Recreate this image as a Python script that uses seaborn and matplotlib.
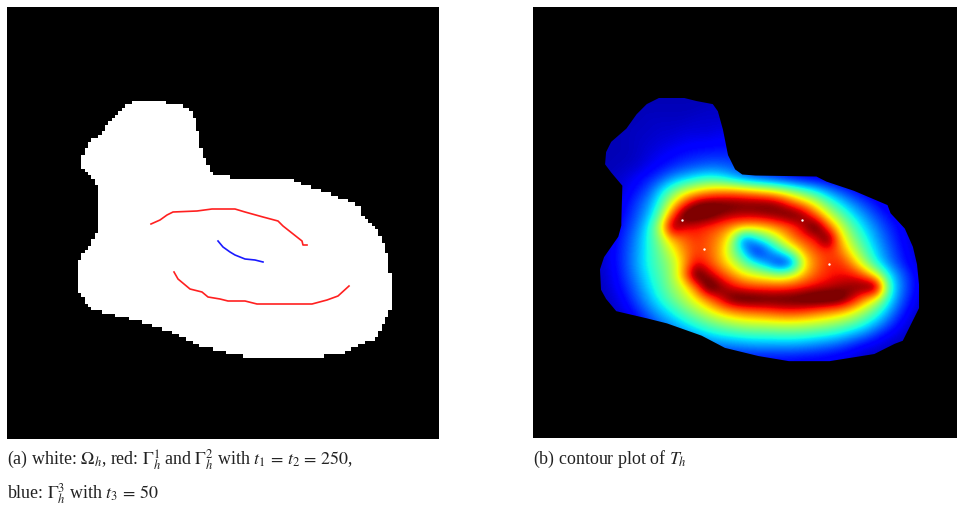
import matplotlib
matplotlib.use("Agg")
import matplotlib.pyplot as plt
import numpy as np
import seaborn as sns
from matplotlib.colors import ListedColormap
from matplotlib.patches import PathPatch
from matplotlib.path import Path

# outline of the domain, in pixels of the reference picture (left panel)
outline_x = [135, 160, 172, 188, 193, 198, 203, 210, 217, 230, 290, 300, 327, 360, 363, 377, 385, 389, 391, 391,
             384, 375, 367, 347, 303, 263, 233, 200, 177, 143, 123, 93, 88, 83, 78, 77, 81, 88, 95, 98, 98, 99,
             88, 82, 83, 88, 103, 113, 123]
outline_y = [102, 102, 105, 108, 115, 133, 158, 172, 177, 178, 179, 184, 193, 207, 215, 230, 248, 265, 285, 308,
             322, 340, 343, 353, 360, 360, 355, 347, 335, 323, 318, 311, 305, 299, 290, 270, 258, 248, 238, 227,
             223, 188, 175, 167, 155, 145, 132, 118, 108]

# boundary pieces
red1_x = [151, 160, 167, 173, 197, 212, 220, 235, 245, 263, 278, 283, 302, 303, 307]
red1_y = [225, 221, 216, 213, 212, 210, 210, 210, 213, 218, 222, 227, 242, 246, 246]
red2_x = [174, 178, 190, 202, 208, 220, 228, 245, 257, 312, 327, 338, 349]
red2_y = [273, 280, 290, 293, 298, 300, 302, 302, 305, 305, 301, 297, 287]
blue_x = [218, 223, 230, 235, 245, 255, 263]
blue_y = [242, 248, 253, 256, 260, 261, 263]

# stray light pixels in the contour plot
dot_x = [682, 802, 704, 829]
dot_y = [221, 221, 250, 265]

# temperature in percent of t_max, 12 px apart
t_x = list(range(600, 925, 12))
t_y = list(range(96, 361, 12))
t_rows = [
    [5, 5, 5, 5, 5, 5, 5, 5, 5, 5, 5, 5, 5, 5, 5, 5, 5, 5, 5, 5, 5, 5, 5, 5, 5, 5, 5, 5],
    [5, 5, 5, 5, 5, 5, 5, 5, 5, 6, 6, 6, 6, 6, 6, 6, 6, 6, 6, 6, 6, 6, 6, 6, 6, 6, 6, 6],
    [5, 5, 5, 5, 6, 6, 6, 6, 7, 7, 7, 7, 7, 7, 7, 7, 7, 7, 7, 7, 7, 7, 7, 7, 7, 7, 7, 7],
    [5, 5, 5, 6, 6, 7, 7, 8, 8, 8, 9, 9, 9, 8, 8, 8, 8, 8, 8, 8, 8, 8, 8, 8, 8, 8, 8, 8],
    [5, 5, 5, 6, 7, 8, 9, 10, 11, 11, 12, 12, 11, 10, 9, 9, 8, 8, 8, 8, 8, 8, 8, 8, 8, 8, 8, 8],
    [5, 5, 5, 6, 8, 10, 12, 14, 15, 16, 16, 16, 14, 13, 12, 11, 10, 9, 9, 8, 8, 8, 8, 8, 8, 8, 8, 8],
    [5, 5, 6, 7, 10, 13, 16, 19, 21, 23, 23, 21, 18, 16, 15, 14, 13, 12, 11, 10, 9, 8, 8, 8, 8, 8, 8, 8],
    [5, 6, 8, 11, 15, 20, 28, 33, 38, 41, 39, 33, 26, 22, 19, 16, 13, 11, 10, 9, 8, 8, 8, 8, 8, 8, 8, 8],
    [5, 6, 9, 14, 20, 33, 46, 58, 66, 72, 75, 76, 74, 70, 66, 60, 52, 44, 36, 27, 20, 14, 10, 8, 7, 6, 6, 6],
    [5, 7, 11, 18, 26, 40, 62, 84, 100, 104, 104, 103, 102, 102, 102, 97, 84, 73, 60, 46, 35, 26, 19, 13, 9, 7, 6, 6],
    [5, 8, 13, 20, 30, 47, 82, 108, 108, 106, 100, 97, 96, 97, 99, 102, 106, 100, 82, 62, 48, 36, 27, 19, 13, 9, 6, 5],
    [5, 9, 15, 23, 36, 58, 105, 92, 90, 86, 82, 75, 70, 68, 72, 78, 84, 96, 110, 84, 62, 46, 34, 25, 17, 12, 7, 5],
    [6, 10, 17, 26, 38, 52, 72, 80, 86, 82, 75, 58, 18, 34, 46, 62, 78, 84, 90, 110, 72, 53, 40, 29, 20, 13, 8, 5],
    [6, 11, 18, 27, 38, 48, 62, 76, 84, 82, 72, 52, 32, 10, 22, 38, 55, 74, 82, 86, 80, 62, 46, 33, 23, 15, 9, 6],
    [6, 11, 18, 28, 38, 46, 55, 72, 92, 84, 74, 62, 48, 36, 24, 10, 18, 62, 78, 86, 87, 76, 56, 38, 26, 17, 10, 6],
    [6, 10, 17, 26, 36, 44, 54, 76, 110, 98, 86, 76, 66, 62, 58, 54, 60, 72, 82, 88, 90, 90, 82, 62, 38, 24, 14, 8],
    [5, 9, 15, 23, 33, 42, 52, 62, 80, 110, 102, 92, 87, 84, 84, 84, 86, 89, 92, 94, 97, 100, 104, 110, 46, 26, 15, 8],
    [5, 7, 12, 20, 29, 38, 47, 56, 66, 78, 92, 106, 108, 108, 106, 106, 106, 108, 110, 110, 108, 96, 78, 62, 40, 23, 13, 6],
    [5, 6, 9, 15, 23, 31, 38, 46, 54, 62, 70, 76, 80, 82, 84, 87, 88, 86, 82, 78, 74, 66, 55, 44, 30, 18, 9, 6],
    [5, 5, 6, 10, 16, 23, 29, 35, 41, 47, 52, 56, 59, 60, 61, 62, 62, 61, 59, 56, 52, 47, 40, 31, 21, 12, 7, 5],
    [5, 5, 5, 7, 11, 15, 20, 25, 29, 33, 36, 38, 40, 41, 41, 42, 42, 41, 39, 37, 34, 29, 24, 17, 11, 8, 5, 5],
    [5, 5, 5, 5, 8, 10, 12, 15, 18, 21, 23, 24, 25, 26, 26, 26, 26, 25, 23, 21, 18, 14, 10, 8, 6, 5, 5, 5],
    [5, 5, 5, 5, 5, 6, 7, 8, 9, 10, 11, 11, 12, 12, 12, 12, 12, 11, 11, 10, 9, 8, 6, 5, 5, 5, 5, 5],
]

CELLS = 128
LEFT_BOX = (7, 7.5, 432, 432)
RIGHT_BOX = (533, 7.5, 424, 432)
FIG_W, FIG_H = 957, 506

plt.rcParams["font.family"] = ["Liberation Serif", "DejaVu Serif"]
plt.rcParams["mathtext.fontset"] = "stix"


def panel(fig, box):
    x, y, w, h = box
    return fig.add_axes([x / FIG_W, 1 - (y + h) / FIG_H, w / FIG_W, h / FIG_H])


fig = plt.figure(figsize=(FIG_W / 100, FIG_H / 100), dpi=100)

# left panel: white domain on black, with the curves on top
cell = LEFT_BOX[2] / CELLS
gx, gy = np.meshgrid((np.arange(CELLS) + 0.5) * cell + LEFT_BOX[0], (np.arange(CELLS) + 0.5) * cell + LEFT_BOX[1])
domain = Path(np.column_stack([outline_x, outline_y]))
mask = domain.contains_points(np.column_stack([gx.ravel(), gy.ravel()])).reshape(gx.shape)

ax1 = panel(fig, LEFT_BOX)
sns.heatmap(mask.astype(int), ax=ax1, cmap=ListedColormap(["black", "white"]), vmin=0, vmax=1,
            cbar=False, xticklabels=False, yticklabels=False)
for xs, ys, col in [(red1_x, red1_y, "#ff2020"), (red2_x, red2_y, "#ff2020"), (blue_x, blue_y, "#1a1aff")]:
    sns.lineplot(x=(np.array(xs) - LEFT_BOX[0]) / cell, y=(np.array(ys) - LEFT_BOX[1]) / cell, ax=ax1,
                 color=col, linewidth=1.2, sort=False, estimator=None)
ax1.set_xlim(0, CELLS)
ax1.set_ylim(CELLS, 0)
ax1.set(xlabel="", ylabel="")

# right panel: black background, jet field clipped to the domain
ax2 = panel(fig, RIGHT_BOX)
sns.heatmap(np.zeros((int(RIGHT_BOX[3]), int(RIGHT_BOX[2]))), ax=ax2, cmap=ListedColormap(["black"]),
            cbar=False, xticklabels=False, yticklabels=False)
x0, y0 = RIGHT_BOX[:2]
extent = [t_x[0] - x0 - 6, t_x[-1] - x0 + 6, t_y[-1] - y0 + 6, t_y[0] - y0 - 6]
img = ax2.imshow(np.array(t_rows) / 100, cmap="jet", vmin=0, vmax=1, interpolation="bicubic",
                 extent=extent, aspect="auto", zorder=2)
clip = PathPatch(Path(np.column_stack([600 + (np.array(outline_x) - 77) * 1.016 - x0,
                                       99 + (np.array(outline_y) - 102) * 1.02 - y0])),
                 transform=ax2.transData, fc="none", ec="none")
ax2.add_patch(clip)
img.set_clip_path(clip)
sns.scatterplot(x=np.array(dot_x) - x0, y=np.array(dot_y) - y0, ax=ax2, color="white", s=3, linewidth=0, zorder=3)
ax2.set_xlim(0, RIGHT_BOX[2])
ax2.set_ylim(RIGHT_BOX[3], 0)
ax2.set(xlabel="", ylabel="")

# captions
size = 12.9
fig.text(7 / FIG_W, 1 - 465 / FIG_H,
         r"(a) white: $\Omega_h$, red: $\Gamma_h^1$ and $\Gamma_h^2$ with $t_1\,=\,t_2\,=\,250$,",
         fontsize=size, color="#222222", va="baseline")
fig.text(7 / FIG_W, 1 - 499 / FIG_H, r"blue: $\Gamma_h^3$ with $t_3\,=\,50$",
         fontsize=size, color="#222222", va="baseline")
fig.text(533 / FIG_W, 1 - 464 / FIG_H, r"(b) contour plot of $T_h$",
         fontsize=size, color="#222222", va="baseline")

fig.savefig("out.png", dpi=100)
